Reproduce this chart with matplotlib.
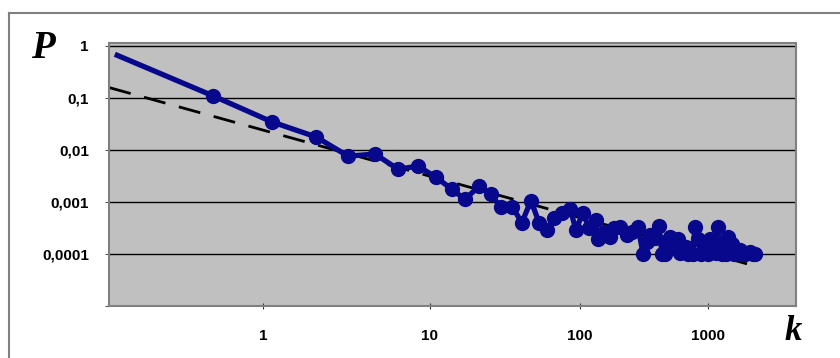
import numpy as np
import matplotlib
matplotlib.use("Agg")
import matplotlib.pyplot as plt
from matplotlib.lines import Line2D
from matplotlib.ticker import FixedLocator, FixedFormatter, NullLocator

# degree k and probability P(k)
k = [0.134, 0.5, 1.13, 2.08, 3.23, 4.69, 6.43, 8.48, 10.96, 14.0, 17.1, 21.2, 25.5,
     29.7, 35.2, 41.0, 47.1, 53.3, 60.3, 67.1, 75.9, 85.8, 94, 105.5, 117.6, 133,
     138, 157, 171, 185, 205, 233, 255, 284, 311, 334, 352, 385, 414, 437, 460, 470,
     505, 542, 583, 600, 626, 673, 700, 723, 760, 791, 836, 880, 915, 965, 1000,
     1037, 1094, 1150, 1198, 1242, 1290, 1334, 1380, 1432, 1480, 1540, 1600, 1655,
     1778, 1850, 1945, 2030, 2130, 2230, 2330]
P = [0.65, 0.109, 0.0343, 0.0176, 0.00755, 0.00826, 0.00424, 0.00484, 0.00297,
     0.00174, 0.00111, 0.00199, 0.00139, 0.00078, 0.00081, 0.0004, 0.00106, 0.0004,
     0.00029, 0.0005, 0.0006, 0.00074, 0.00029, 0.00062, 0.00031, 0.00044, 0.000196,
     0.000267, 0.000214, 0.00031, 0.000334, 0.000234, 0.000267, 0.000334, 0.0001,
     0.000171, 0.000234, 0.000205, 0.00035, 0.0001, 0.0001, 0.000171, 0.000214,
     0.000137, 0.000196, 0.000105, 0.00011, 0.000137, 0.0001, 0.00011, 0.0001,
     0.000334, 0.000196, 0.0001, 0.00011, 0.000137, 0.0001, 0.000196, 0.00011,
     0.000105, 0.000334, 0.00011, 0.0001, 0.000157, 0.0001, 0.000214, 0.000105,
     0.000157, 0.0001, 0.00011, 0.00012, 0.0001, 0.0001, 0.000105, 0.00011, 0.0001,
     0.0001]

# power-law fit (dashed)
fit_k = [0.12, 2018]
fit_P = [0.156, 6.45e-5]

x_ticks = [1, 10, 100, 1000]
x_labels = ["1", "10", "100", "1000"]
y_ticks = [1e-5, 1e-4, 1e-3, 1e-2, 1e-1, 1]
y_labels = ["", "0,0001", "0,001", "0,01", "0,1", "1"]

# the original k axis has uneven decades; calibrate it piecewise in log space
dec_log = [-1, 0, 1, 2, 3, 4]
dec_pos = [96, 263, 430, 580, 708, 836]


def fwd(x):
    return np.interp(np.log10(np.clip(x, 1e-3, None)), dec_log, dec_pos)


def inv(p):
    return 10 ** np.interp(p, dec_pos, dec_log)


fig = plt.figure(figsize=(8.4, 3.58), dpi=100)
ax = fig.add_axes([109 / 840, 52 / 358, 687 / 840, 263 / 358])
ax.set_facecolor("#c0c0c0")

ax.set_xscale("function", functions=(fwd, inv))
ax.set_yscale("log")
ax.set_xlim(inv(109), inv(796))
ax.set_ylim(1e-5, 1.12)

ax.plot(fit_k, fit_P, color="black", lw=2, dashes=(8, 5), zorder=2)
ax.plot(k, P, color="#08088c", lw=3.8, marker="o", ms=10,
        markevery=slice(1, None), zorder=3)

ax.xaxis.set_major_locator(FixedLocator(x_ticks))
ax.xaxis.set_major_formatter(FixedFormatter(x_labels))
ax.xaxis.set_minor_locator(NullLocator())
ax.yaxis.set_major_locator(FixedLocator(y_ticks))
ax.yaxis.set_major_formatter(FixedFormatter(y_labels))
ax.yaxis.set_minor_locator(NullLocator())

ax.yaxis.grid(True, color="black", lw=1)
ax.set_axisbelow(True)

for s in ax.spines.values():
    s.set_color("#808080")
    s.set_linewidth(1.5)

ax.tick_params(axis="y", direction="out", length=3, color="#555555",
               labelsize=11, pad=11.5)
ax.tick_params(axis="x", direction="inout", length=5, color="#333333",
               labelsize=11, pad=14)
for lab in ax.get_xticklabels() + ax.get_yticklabels():
    lab.set_fontfamily("Liberation Sans")
    lab.set_fontweight("bold")

fig.text(43 / 840, 1 - 49 / 358, "P", family="Liberation Serif", weight="bold",
         style="italic", fontsize=28, ha="center", va="center")
fig.text(793 / 840, 1 - 332 / 358, "k", family="Liberation Serif", weight="bold",
         style="italic", fontsize=25, ha="center", va="center")

# outer chart frame (runs past the right and bottom edges)
fig.add_artist(Line2D([9 / 840, 9 / 840], [0, 1 - 13 / 358], color="#808080", lw=1.5))
fig.add_artist(Line2D([9 / 840, 1], [1 - 13 / 358, 1 - 13 / 358], color="#808080", lw=1.5))

fig.savefig("out.png", dpi=100)
